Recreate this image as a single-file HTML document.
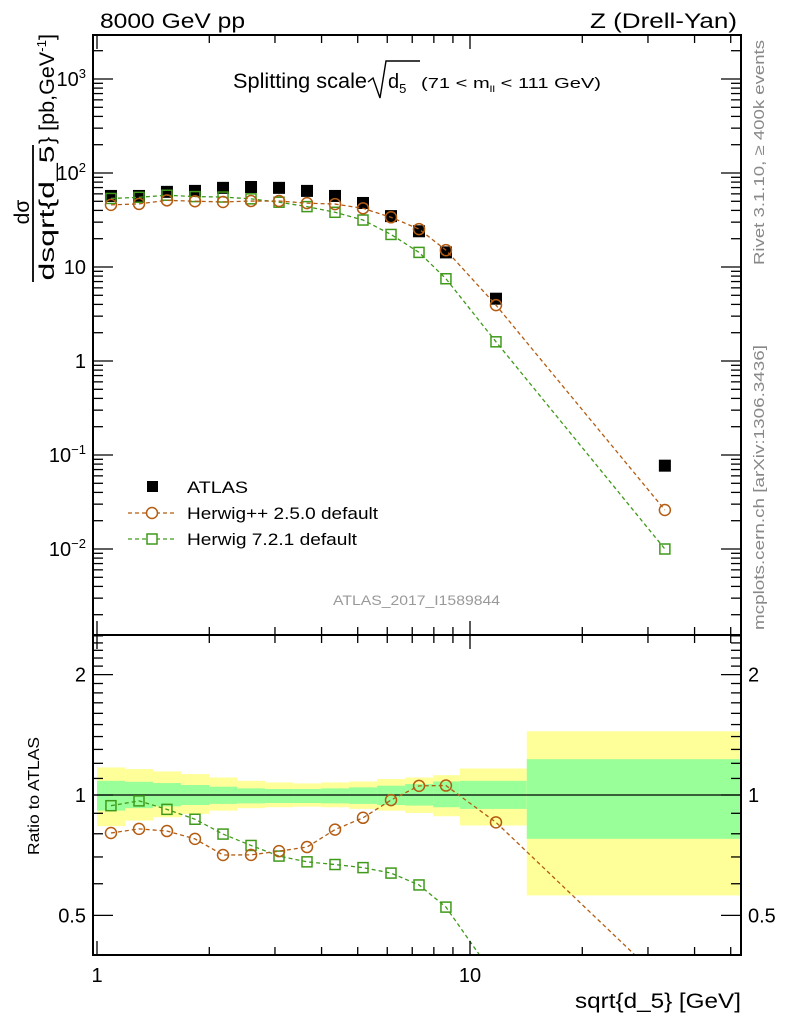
<!DOCTYPE html>
<html><head><meta charset="utf-8"><style>
html,body{margin:0;padding:0;background:#fff;width:786px;height:1024px;overflow:hidden;}
svg{display:block;font-family:"Liberation Sans",sans-serif;}
</style></head><body>
<svg id="c" width="786" height="1024" viewBox="0 0 786 1024">
<defs>
<clipPath id="cm"><rect x="93" y="35" width="648" height="600"/></clipPath>
<clipPath id="cr"><rect x="93" y="635" width="648" height="320"/></clipPath>
</defs>
<g id="bands" clip-path="url(#cr)"></g>
<g id="marks"></g>
<g id="axes"></g>
<text x="100" y="28" font-size="21" textLength="145" lengthAdjust="spacingAndGlyphs">8000 GeV pp</text>
<text x="590" y="28" font-size="21" textLength="147" lengthAdjust="spacingAndGlyphs">Z (Drell-Yan)</text>
<g>
<text x="233" y="88" font-size="21" textLength="134" lengthAdjust="spacingAndGlyphs">Splitting scale</text>
<path d="M368 82 L373 78 L380 98 L386 61 L420 61" fill="none" stroke="#000" stroke-width="1.4"/>
<text x="388" y="88" font-size="20">d<tspan font-size="13" dy="5">5</tspan></text>
<text x="421" y="88" font-size="15" textLength="180" lengthAdjust="spacingAndGlyphs">(71 &lt; m<tspan font-size="9" dy="4">ll</tspan><tspan dy="-4"> &lt; 111 GeV)</tspan></text>
</g>
<g>
<text transform="translate(29,212) rotate(-90)" font-size="21" text-anchor="middle">dσ</text>
<line x1="33" y1="145" x2="33" y2="282" stroke="#000" stroke-width="1.8"/>
<text transform="translate(54,213) rotate(-90)" font-size="21" text-anchor="middle" textLength="135" lengthAdjust="spacingAndGlyphs">dsqrt{d_5</text>
<text transform="translate(54,144) rotate(-90)" font-size="21" textLength="110" lengthAdjust="spacingAndGlyphs">} [pb,GeV<tspan font-size="13" dy="-8">-1</tspan><tspan dy="8">]</tspan></text>
</g>
<text transform="translate(39,796) rotate(-90)" font-size="16" text-anchor="middle" textLength="118" lengthAdjust="spacingAndGlyphs">Ratio to ATLAS</text>
<text x="575" y="1008" font-size="21" textLength="166" lengthAdjust="spacingAndGlyphs">sqrt{d_5} [GeV]</text>
<text transform="translate(764,265) rotate(-90)" font-size="15" fill="#888" textLength="225" lengthAdjust="spacingAndGlyphs">Rivet 3.1.10, ≥ 400k events</text>
<text transform="translate(764,630) rotate(-90)" font-size="15" fill="#888" textLength="285" lengthAdjust="spacingAndGlyphs">mcplots.cern.ch [arXiv:1306.3436]</text>
<text x="333" y="605" font-size="14" fill="#999" textLength="167" lengthAdjust="spacingAndGlyphs">ATLAS_2017_I1589844</text>
<g>
<rect x="147" y="481" width="11" height="11" fill="#000"/>
<text x="187" y="493" font-size="17" textLength="61" lengthAdjust="spacingAndGlyphs">ATLAS</text>
<line x1="128" y1="513" x2="176" y2="513" stroke="#b35c12" stroke-width="1.3" stroke-dasharray="4,3"/>
<circle cx="152" cy="513" r="5.5" fill="#fff" stroke="#b35c12" stroke-width="1.5"/>
<text x="187" y="519" font-size="17" textLength="191" lengthAdjust="spacingAndGlyphs">Herwig++ 2.5.0 default</text>
<line x1="128" y1="539" x2="176" y2="539" stroke="#3f9a1a" stroke-width="1.3" stroke-dasharray="4,3"/>
<rect x="147" y="534" width="10" height="10" fill="#fff" stroke="#3f9a1a" stroke-width="1.5"/>
<text x="187" y="545" font-size="17" textLength="170" lengthAdjust="spacingAndGlyphs">Herwig 7.2.1 default</text>
</g>
</svg>
<script>
const xVals=[1.09,1.296,1.54,1.831,2.177,2.588,3.076,3.656,4.346,5.166,6.141,7.30,8.62,11.74,33.3];
const binEdges=[1,1.189,1.413,1.680,1.997,2.374,2.822,3.355,3.988,4.741,5.636,6.700,7.965,9.39,14.2,53.1];
const atlas=[57,57,63,64.5,69.5,71,69.5,64.5,57,48,34.8,24,14.3,4.6,0.077];
const herwigpp=[45.8,46.9,51.2,50.1,49.2,50.3,50.3,47.8,46.7,42.1,33.8,25.3,15.1,3.93,0.026];
const herwig7=[53.6,55.1,58,56.1,55.5,53.1,48.9,43.9,38.2,31.6,22.2,14.3,7.5,1.6,0.01];
const yellowHi=[1.172,1.161,1.145,1.128,1.106,1.085,1.075,1.069,1.075,1.081,1.096,1.106,1.121,1.165,1.443];
const yellowLo=[0.836,0.863,0.880,0.897,0.914,0.927,0.932,0.935,0.932,0.923,0.914,0.902,0.885,0.839,0.561];
const greenHi=[1.085,1.079,1.071,1.059,1.049,1.039,1.035,1.035,1.039,1.045,1.055,1.065,1.081,1.085,1.229];
const greenLo=[0.914,0.927,0.937,0.944,0.950,0.953,0.955,0.955,0.953,0.950,0.944,0.941,0.932,0.923,0.777];
const mainTicks=[0.01,0.1,1,10,100,1000];
const mainTickLabels=["10^-2","10^-1","1","10","10^2","10^3"];
const ratioTickVals=[0.5,1,2];
const ratioTickLabels=["0.5","1","2"];
const xTickVals=[1,10];
const xTickLabels=["1","10"];

const NS="http://www.w3.org/2000/svg";
const L=93,R=741,MT=35,MB=635,RB=955;
const X=v=>97+373*Math.log10(v);
const Y=v=>361-94*Math.log10(v);
const YR=v=>795-400*Math.log10(v);
function mk(tag,attrs,parent){const e=document.createElementNS(NS,tag);for(const k in attrs)e.setAttribute(k,attrs[k]);parent.appendChild(e);return e;}
const bands=document.getElementById('bands'),marks=document.getElementById('marks'),axes=document.getElementById('axes');

for(let i=0;i<xVals.length;i++){
  const x0=X(binEdges[i]),x1=X(binEdges[i+1]);
  const y=mk('rect',{x:x0,y:YR(yellowHi[i]),width:x1-x0,height:YR(yellowLo[i])-YR(yellowHi[i]),fill:'#ffff99'},bands);
  
  
  const g=mk('rect',{x:x0,y:YR(greenHi[i]),width:x1-x0,height:YR(greenLo[i])-YR(greenHi[i]),fill:'#99ff99'},bands);
  
  
}
const one=mk('line',{x1:L,x2:R,y1:YR(1),y2:YR(1),stroke:'#000','stroke-width':1.3},bands);



function series(vals,color,shape,yf,clip,ratio){
  const g=mk('g',{'clip-path':clip},marks);
  const pts=vals.map((v,i)=>[X(xVals[i]),yf(ratio?v/atlas[i]:v)]);
  const p=mk('polyline',{points:pts.map(p=>p.join(',')).join(' '),fill:'none',stroke:color,'stroke-width':1.3,'stroke-dasharray':'4,3'},g);
  
  
  pts.forEach(([x,y])=>{
    let m;
    if(shape==='c')m=mk('circle',{cx:x,cy:y,r:5.5,fill:'none',stroke:color,'stroke-width':1.5},g);
    else m=mk('rect',{x:x-5,y:y-5,width:10,height:10,fill:'none',stroke:color,'stroke-width':1.5},g);
    
    
  });
}
const ga=mk('g',{'clip-path':'url(#cm)'},marks);
atlas.forEach((v,i)=>{
  const r=mk('rect',{x:X(xVals[i])-6,y:Y(v)-6,width:12,height:12,fill:'#000'},ga);
  
  
});
series(herwig7,'#3f9a1a','s',Y,'url(#cm)',false);
series(herwigpp,'#b35c12','c',Y,'url(#cm)',false);
series(herwig7,'#3f9a1a','s',YR,'url(#cr)',true);
series(herwigpp,'#b35c12','c',YR,'url(#cr)',true);

[[MT,MB],[MB,RB]].forEach(([t,b])=>{
  const f=mk('rect',{x:L,y:t,width:R-L,height:b-t,fill:'none',stroke:'#000','stroke-width':2},axes);
  
  
});
for(let d=1;d<=50;d*=10){for(let k=1;k<10;k++){const v=d*k;if(v>53)break;const x=X(v);const h=k===1?14:8;
  [[MT,1],[MB,-1],[MB,1],[RB,-1]].forEach(([y0,s])=>mk('line',{x1:x,x2:x,y1:y0,y2:y0+s*h,stroke:'#000','stroke-width':1.3},axes));}}
xTickVals.forEach((v,i)=>{const t=mk('text',{x:X(v),y:982,'font-size':20,'text-anchor':'middle'},axes);t.textContent=xTickLabels[i];
  });
for(let e=-3;e<=3;e++){for(let k=1;k<10;k++){const v=Math.pow(10,e)*k;const y=Y(v);if(y<MT||y>MB)continue;const h=k===1?20:10;
  mk('line',{x1:L,x2:L+h,y1:y,y2:y,stroke:'#000','stroke-width':1.3},axes);mk('line',{x1:R,x2:R-h,y1:y,y2:y,stroke:'#000','stroke-width':1.3},axes);}}
mainTicks.forEach((v,i)=>{const lab=mainTickLabels[i];const t=mk('text',{x:86,y:Y(v)+7,'font-size':20,'text-anchor':'end'},axes);
  if(lab.startsWith('10^')){t.textContent='10';const s=mk('tspan',{'font-size':13,dy:-8},t);s.textContent=lab.slice(3).replace('-','−');}
  else t.textContent=lab;
  });
[0.5,0.6,0.7,0.8,0.9,1,1.1,1.2,1.3,1.4,1.5,1.6,1.7,1.8,1.9,2,2.1,2.2,2.3,2.4,2.5].forEach(v=>{const y=YR(v);if(y<MB||y>RB)return;const big=(v===0.5||v===1||v===2);const h=big?20:10;
  mk('line',{x1:L,x2:L+h,y1:y,y2:y,stroke:'#000','stroke-width':1.3},axes);mk('line',{x1:R,x2:R-h,y1:y,y2:y,stroke:'#000','stroke-width':1.3},axes);});
ratioTickVals.forEach((v,i)=>{[[86,'end'],[748,'start']].forEach(([x,a])=>{const t=mk('text',{x:x,y:YR(v)+7,'font-size':20,'text-anchor':a},axes);t.textContent=ratioTickLabels[i];
  });});
</script>
</body></html>
